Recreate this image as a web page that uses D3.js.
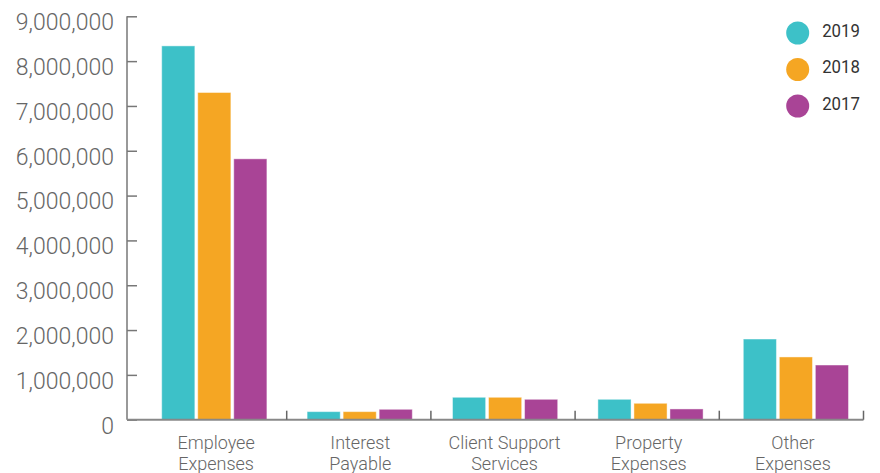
<!DOCTYPE html>
<html>
<head>
<meta charset="utf-8">
<script src="https://cdn.jsdelivr.net/npm/d3@7"></script>
<style>
  html, body { margin: 0; padding: 0; background: #fff; }
  svg { display: block; font-family: Roboto, "Noto Sans", sans-serif; }
</style>
</head>
<body>
<svg id="chart" width="880" height="473"></svg>
<script>
const categories = [["Employee", "Expenses"], ["Interest", "Payable"], ["Client Support", "Services"], ["Property", "Expenses"], ["Other", "Expenses"]];
const seriesNames = ["2019", "2018", "2017"];
const values2019 = [8340000, 180000, 500000, 455000, 1800000];
const values2018 = [7300000, 180000, 500000, 366000, 1400000];
const values2017 = [5820000, 232000, 455000, 240000, 1220000];
const yTicks = [0, 1000000, 2000000, 3000000, 4000000, 5000000, 6000000, 7000000, 8000000, 9000000];
const colors = ["#3DC1C8", "#F5A623", "#A94496"];

const series = [values2019, values2018, values2017];
const svg = d3.select("#chart");

const x0 = d3.scaleBand().domain(d3.range(categories.length)).range([142.5, 863.5]).padding(0);
const xb = d3.scaleBand().domain(d3.range(categories.length)).range([142.5, 869.5]).padding(0);
const x1 = d3.scaleBand().domain(d3.range(seriesNames.length)).range([19.2, 124.4]).paddingInner(0.08);
const y = d3.scaleLinear().domain([0, 9000000]).range([419.7, 16.3]);

// Y axis
const yAxis = d3.axisLeft(y).tickValues(yTicks).tickSize(-10).tickPadding(13)
  .tickFormat(d3.format(","));
const gy = svg.append("g").attr("transform", "translate(127,0)").call(yAxis);
gy.select(".domain").attr("stroke", "#777").attr("stroke-width", 1.5).attr("d", `M0,${y(9000000)}V${y(0)}`);
gy.selectAll(".tick line").attr("stroke", "#777").attr("stroke-width", 1.5);
gy.selectAll(".tick text").attr("fill", "#666").attr("font-size", 23).attr("font-weight", 300)
  .attr("dy", "0.58em").attr("font-family", "Roboto, sans-serif");

// Bars
const groups = svg.append("g").selectAll("g").data(categories).join("g")
  .attr("transform", (d, i) => `translate(${xb(i)},0)`);
groups.selectAll("rect").data((d, i) => series.map((s, k) => ({ k, v: s[i] }))).join("rect")
  .attr("x", d => x1(d.k))
  .attr("width", x1.bandwidth())
  .attr("y", d => y(d.v))
  .attr("height", d => y(0) - y(d.v))
  .attr("fill", d => colors[d.k])
  .attr("stroke", "rgba(255,255,255,0.45)")
  .attr("stroke-width", 1);

// X axis
const gx = svg.append("g");
gx.append("line").attr("x1", 127).attr("x2", 863.5).attr("y1", y(0)).attr("y2", y(0))
  .attr("stroke", "#888").attr("stroke-width", 2);
gx.selectAll("line.tk").data(d3.range(categories.length)).join("line").attr("class", "tk")
  .attr("x1", i => x0(i) + x0.step()).attr("x2", i => x0(i) + x0.step())
  .attr("y1", y(0)).attr("y2", y(0) - 9)
  .attr("stroke", "#666").attr("stroke-width", 1.5);
const labels = gx.selectAll("text").data(categories).join("text")
  .attr("text-anchor", "middle")
  .attr("fill", "#666").attr("font-size", 18).attr("font-weight", 300)
  .attr("transform", (d, i) => `translate(${x0(i) + x0.bandwidth() / 2 + 1.5},0)`);
labels.selectAll("tspan").data(d => d).join("tspan")
  .attr("x", 0).attr("y", (d, j) => 448.5 + j * 21.5).text(d => d);

// Legend
const legend = svg.append("g").selectAll("g").data(seriesNames).join("g")
  .attr("transform", (d, i) => `translate(797.7,${33 + i * 36.5})`);
legend.append("circle").attr("r", 11.5).attr("fill", (d, i) => colors[i]);
legend.append("text").attr("x", 24.5).attr("y", 3.7)
  .attr("fill", "#333").attr("font-size", 18.5).attr("font-weight", 400)
  .attr("textLength", 37.7).attr("lengthAdjust", "spacingAndGlyphs")
  .text(d => d);
</script>
</body>
</html>
